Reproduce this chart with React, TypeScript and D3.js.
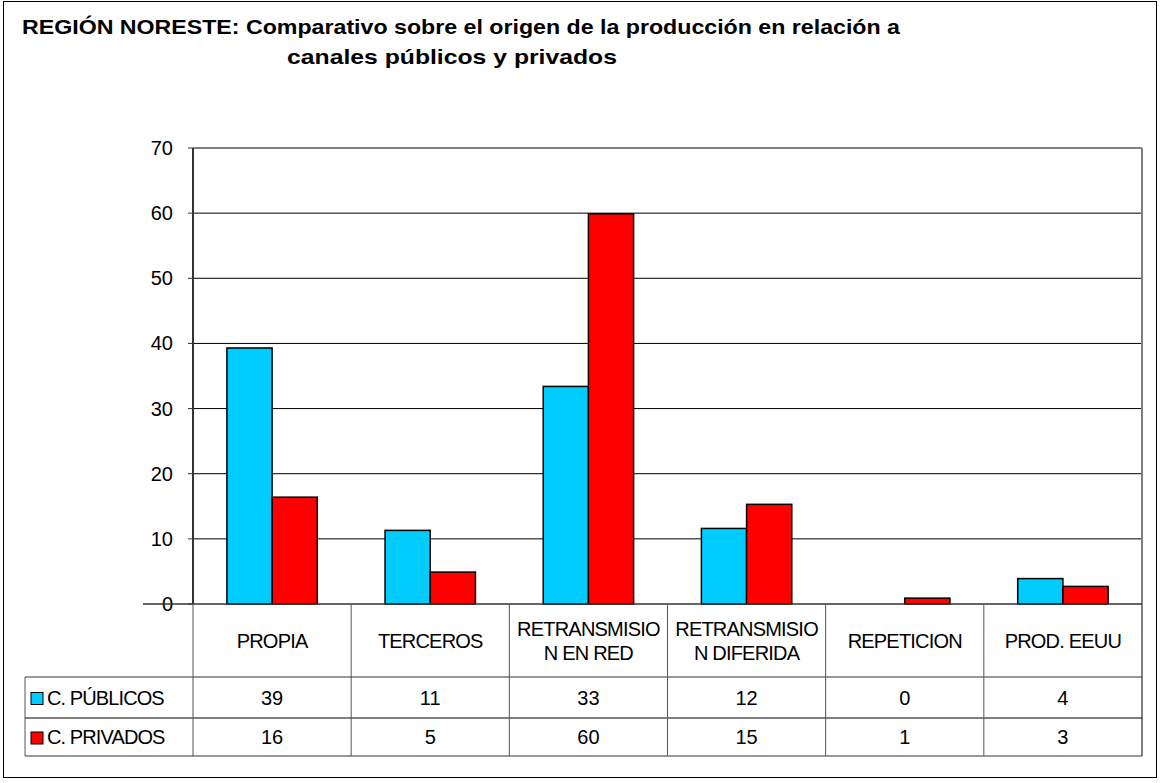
import React from "react";
import * as d3 from "d3";

const TITLE_LINES = [
  "REGIÓN NORESTE: Comparativo sobre el origen de la producción en relación a",
  "canales públicos y privados",
];
const CATEGORIES = ["PROPIA", "TERCEROS", "RETRANSMISION EN RED", "RETRANSMISION DIFERIDA", "REPETICION", "PROD. EEUU"];
const CATEGORY_LINES = [
  ["PROPIA"],
  ["TERCEROS"],
  ["RETRANSMISIO", "N EN RED"],
  ["RETRANSMISIO", "N DIFERIDA"],
  ["REPETICION"],
  ["PROD. EEUU"],
];
const SERIES_NAMES = ["C. PÚBLICOS", "C. PRIVADOS"];
const PUBLICOS = [39.3, 11.3, 33.4, 11.6, 0, 3.9];
const PRIVADOS = [16.4, 4.9, 59.9, 15.3, 0.9, 2.7];
const Y_TICKS = [0, 10, 20, 30, 40, 50, 60, 70];
const COLORS = ["#00CCFF", "#FF0000"];

const W = 1160;
const H = 783;
const FONT = "Arial, 'Liberation Sans', sans-serif";

export default function App() {
  const left = 193, right = 1142, top = 148, bottom = 604;
  const rowCat = 677, rowPub = 718, rowPriv = 756;
  const tableLeft = 25;

  const x0 = d3.scaleBand<string>().domain(CATEGORIES).range([left, right]).paddingInner(0).paddingOuter(0);
  const bw = x0.bandwidth() / 3.5;
  const x1 = d3.scaleBand<number>().domain([0, 1]).range([0, 2 * bw]);
  const y = d3.scaleLinear().domain([0, 70]).range([bottom, top]);
  const series = [PUBLICOS, PRIVADOS];

  return (
    <svg width={W} height={H} style={{ position: "absolute", left: 0, top: 0, background: "#fff" }} fontFamily={FONT}>
      <rect x={3.5} y={1.5} width={1153} height={776} fill="#fff" stroke="#000" strokeWidth={1} />
      {/* Title */}
      <text x={22} y={34} fontSize={21} fontWeight="bold" textLength={878} lengthAdjust="spacingAndGlyphs">{TITLE_LINES[0]}</text>
      <text x={287} y={64} fontSize={21} fontWeight="bold" textLength={330} lengthAdjust="spacingAndGlyphs">{TITLE_LINES[1]}</text>

      {/* gridlines */}
      {Y_TICKS.filter((t) => t > 0 && t < 70).map((t) => (
        <line key={"g" + t} x1={left} x2={right} y1={y(t)} y2={y(t)} stroke="#000" strokeWidth={1} />
      ))}
      {/* plot border top/right */}
      <line x1={left} x2={right} y1={top} y2={top} stroke="#808080" strokeWidth={2} />
      <line x1={right} x2={right} y1={top} y2={rowPriv} stroke="#808080" strokeWidth={2} />

      {/* bars */}
      {CATEGORIES.map((c, i) => {
        const gx = (x0(c) as number) + (x0.bandwidth() - 2 * bw) / 2;
        return series.map((s, k) =>
          s[i] > 0 ? (
            <rect
              key={c + k}
              x={gx + (x1(k) as number)}
              y={y(s[i])}
              width={x1.bandwidth()}
              height={y(0) - y(s[i])}
              fill={COLORS[k]}
              stroke="#000"
              strokeWidth={1.5}
            />
          ) : null
        );
      })}

      {/* y axis */}
      <line x1={left} x2={left} y1={top} y2={bottom} stroke="#333" strokeWidth={2} />
      {Y_TICKS.map((t) => (
        <g key={"t" + t}>
          <line x1={left - 5} x2={left} y1={y(t)} y2={y(t)} stroke="#333" strokeWidth={1} />
          <text x={173} y={y(t)} dy="0.35em" fontSize={20} textAnchor="end">{t}</text>
        </g>
      ))}
      {/* x axis line */}
      <line x1={left - 50} x2={right} y1={bottom} y2={bottom} stroke="#333" strokeWidth={1.5} />

      {/* data table */}
      <line x1={tableLeft} x2={right} y1={rowCat} y2={rowCat} stroke="#333" strokeWidth={1} />
      <line x1={tableLeft} x2={right} y1={rowPub} y2={rowPub} stroke="#000" strokeWidth={1} />
      <line x1={tableLeft} x2={right} y1={rowPriv} y2={rowPriv} stroke="#333" strokeWidth={1} />
      <line x1={tableLeft} x2={tableLeft} y1={rowCat} y2={rowPriv} stroke="#555" strokeWidth={1} />
      {CATEGORIES.map((c) => (
        <line key={"v" + c} x1={x0(c) as number} x2={x0(c) as number} y1={bottom} y2={rowPriv} stroke="#555" strokeWidth={1} />
      ))}
      {CATEGORIES.map((c, i) => {
        const cx = (x0(c) as number) + x0.bandwidth() / 2;
        const lines = CATEGORY_LINES[i];
        const mid = (bottom + rowCat) / 2;
        return lines.map((ln, j) => (
          <text
            key={c + j}
            x={cx}
            y={mid + (j - (lines.length - 1) / 2) * 24}
            dy="0.35em"
            fontSize={20}
            textAnchor="middle"
            letterSpacing={-0.8}
          >
            {ln}
          </text>
        ));
      })}
      {series.map((s, k) => {
        const cy = k === 0 ? (rowCat + rowPub) / 2 : (rowPub + rowPriv) / 2;
        return (
          <g key={"row" + k}>
            <rect x={31} y={cy - 5} width={12} height={12} fill={COLORS[k]} stroke="#000" strokeWidth={1} />
            <text x={47} y={cy} dy="0.35em" fontSize={20} letterSpacing={-0.9}>{SERIES_NAMES[k]}</text>
            {CATEGORIES.map((c, i) => (
              <text key={c} x={(x0(c) as number) + x0.bandwidth() / 2} y={cy} dy="0.35em" fontSize={20} textAnchor="middle">
                {Math.round(s[i])}
              </text>
            ))}
          </g>
        );
      })}
    </svg>
  );
}
